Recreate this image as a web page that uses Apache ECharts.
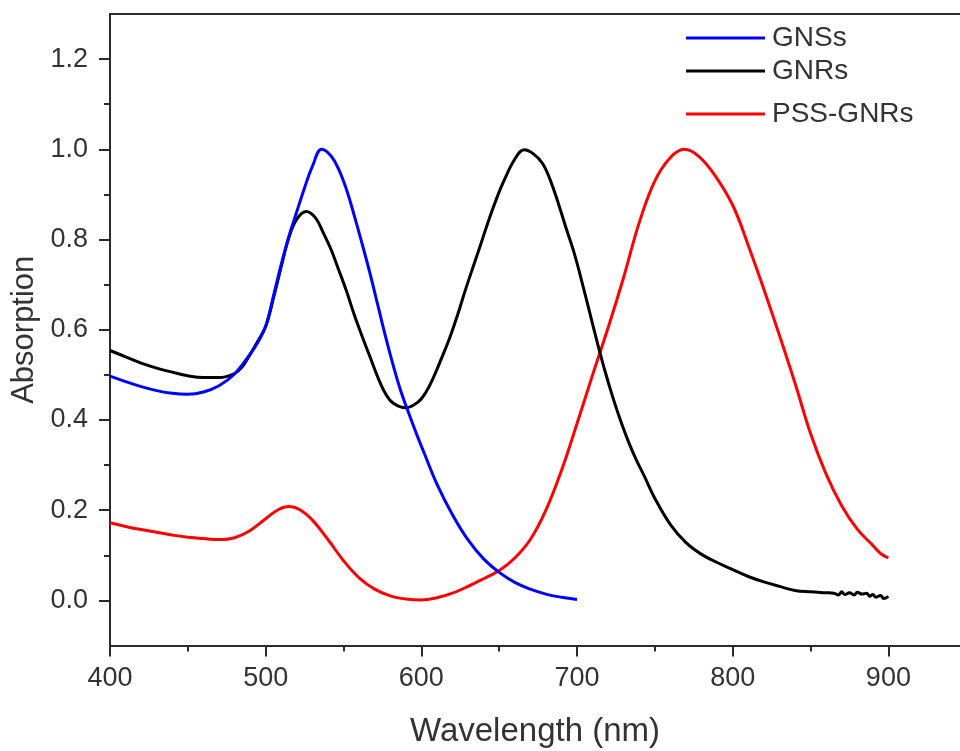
<!DOCTYPE html>
<html>
<head>
<meta charset="utf-8">
<script src="https://cdn.jsdelivr.net/npm/echarts@6/dist/echarts.min.js"></script>
<style>html,body{margin:0;padding:0;background:#fff;}#c{width:960px;height:751px;}</style>
</head>
<body>
<div id="c"></div>
<script>
// ---- data ----
const gnsWl = [400,410,420,430,440,450,460,470,480,490,495,500,505,510,515,520,525,530,536,542,547,552,557,562,567,572,577,582,587,592,597,602,610,620,630,640,650,660,670,680,690,700];
const gnsAbs = [0.497,0.485,0.474,0.465,0.459,0.457,0.462,0.476,0.502,0.546,0.572,0.608,0.675,0.745,0.808,0.862,0.915,0.962,1.000,0.985,0.955,0.910,0.852,0.790,0.725,0.655,0.585,0.520,0.462,0.414,0.368,0.325,0.258,0.190,0.134,0.092,0.062,0.040,0.025,0.014,0.007,0.002];

const gnrWl = [400,410,420,430,440,450,460,470,480,485,490,495,500,505,510,515,520,526,532,537,542,547,552,557,562,567,572,577,582,590,598,603,608,613,618,623,628,633,638,643,648,653,660,666,672,678,683,688,693,698,703,708,713,718,723,728,733,738,743,750,760,770,780,790,800,810,820,830,840,850,860,865,868,870,872,875,878,880,883,886,888,890,892,895,897,900];
const gnrAbs = [0.554,0.540,0.526,0.515,0.506,0.498,0.494,0.494,0.503,0.518,0.545,0.575,0.607,0.670,0.740,0.805,0.845,0.862,0.848,0.815,0.778,0.732,0.685,0.632,0.585,0.540,0.495,0.458,0.437,0.427,0.440,0.462,0.496,0.537,0.580,0.630,0.685,0.737,0.788,0.840,0.888,0.930,0.978,0.999,0.990,0.968,0.930,0.880,0.825,0.772,0.708,0.640,0.572,0.508,0.450,0.398,0.352,0.312,0.277,0.226,0.168,0.128,0.102,0.084,0.068,0.053,0.041,0.031,0.022,0.019,0.017,0.016,0.012,0.019,0.013,0.017,0.012,0.018,0.014,0.016,0.009,0.013,0.007,0.011,0.004,0.009];

const pssWl = [400,410,420,430,440,450,460,470,480,490,500,508,515,522,530,540,550,560,570,580,590,600,610,620,630,640,650,660,670,680,690,700,710,720,730,740,750,760,769,778,788,800,810,820,830,840,850,860,870,880,890,895,900];
const pssAbs = [0.172,0.164,0.157,0.151,0.145,0.140,0.137,0.135,0.139,0.155,0.181,0.201,0.208,0.201,0.178,0.135,0.088,0.050,0.025,0.010,0.003,0.001,0.006,0.016,0.031,0.048,0.066,0.094,0.135,0.200,0.288,0.392,0.500,0.605,0.717,0.838,0.930,0.982,1.000,0.985,0.945,0.876,0.787,0.690,0.588,0.482,0.370,0.280,0.210,0.158,0.122,0.104,0.094];

const seriesNames = ['GNSs','GNRs','PSS-GNRs'];
const seriesColors = ['#0000ff','#000000','#ff0000'];
const xMajorTicks = [400,500,600,700,800,900];
const xMinorTicks = [450,550,650,750,850];
const yMajorTicks = [0.0,0.2,0.4,0.6,0.8,1.0,1.2];
const yMinorTicks = [0.1,0.3,0.5,0.7,0.9,1.1];

const zip = (a,b) => a.map((v,i) => [v,b[i]]);
const allData = [zip(gnsWl,gnsAbs), zip(gnrWl,gnrAbs), zip(pssWl,pssAbs)];

const axisColor = '#2b2b2b';
const font = 'Liberation Sans, Arial, sans-serif';
const X_MIN = 400, X_MAX = 946, Y_MIN = -0.1, Y_MAX = 1.3;

const chart = echarts.init(document.getElementById('c'), null, {renderer:'canvas'});
const legendTops = [38,71,114];
chart.setOption({
  animation:false,
  backgroundColor:'#fff',
  grid:{left:110,right:0,top:14,bottom:105.5,containLabel:false,outerBoundsMode:'none'},
  legend: seriesNames.map((n,i)=>({
    data:[n], left:686, top:legendTops[i]-14, orient:'vertical', padding:0,
    icon:'rect', itemWidth:79, itemHeight:3,
    textStyle:{fontSize:28,fontFamily:font,color:'#333',lineHeight:28,padding:[0,0,0,2]},
    selectedMode:false
  })),
  xAxis:[{
    type:'value', min:X_MIN, max:X_MAX, position:'bottom',
    name:'Wavelength (nm)', nameLocation:'middle', nameGap:70,
    nameTextStyle:{fontSize:33,fontFamily:font,color:'#333'},
    axisLine:{show:true,onZero:false,lineStyle:{color:axisColor,width:2}},
    axisTick:{show:true,length:11,customValues:xMajorTicks,lineStyle:{color:axisColor,width:2}},
    axisLabel:{fontSize:27,fontFamily:font,color:'#333',margin:20,customValues:xMajorTicks},
    splitLine:{show:false}
  },{
    type:'value', position:'top', min:X_MIN, max:X_MAX,
    axisLine:{show:true,onZero:false,lineStyle:{color:axisColor,width:2}},
    axisTick:{show:false}, axisLabel:{show:false}, splitLine:{show:false}
  },{
    type:'value', position:'bottom', min:X_MIN, max:X_MAX,
    axisLine:{show:false,onZero:false},
    axisTick:{show:true,length:6,customValues:xMinorTicks,lineStyle:{color:axisColor,width:2}},
    axisLabel:{show:false}, splitLine:{show:false}
  }],
  yAxis:[{
    type:'value', min:Y_MIN, max:Y_MAX,
    name:'Absorption', nameLocation:'middle', nameGap:66, nameRotate:90,
    nameTextStyle:{fontSize:31,fontFamily:font,color:'#333'},
    axisLine:{show:true,onZero:false,lineStyle:{color:axisColor,width:2}},
    axisTick:{show:true,length:11,customValues:yMajorTicks,lineStyle:{color:axisColor,width:2}},
    axisLabel:{fontSize:27,fontFamily:font,color:'#333',margin:22,customValues:yMajorTicks,formatter:v=>v.toFixed(1)},
    splitLine:{show:false}
  },{
    type:'value', min:Y_MIN, max:Y_MAX, position:'left',
    axisLine:{show:false,onZero:false},
    axisTick:{show:true,length:6,customValues:yMinorTicks,lineStyle:{color:axisColor,width:2}},
    axisLabel:{show:false}, splitLine:{show:false}
  }],
  series: seriesNames.map((n,i)=>({
    name:n, type:'line', data:allData[i], xAxisIndex:0, yAxisIndex:0,
    showSymbol:false, smooth:0.4, color:seriesColors[i],
    lineStyle:{color:seriesColors[i],width:3}, z:3-i
  }))
});
</script>
</body>
</html>
